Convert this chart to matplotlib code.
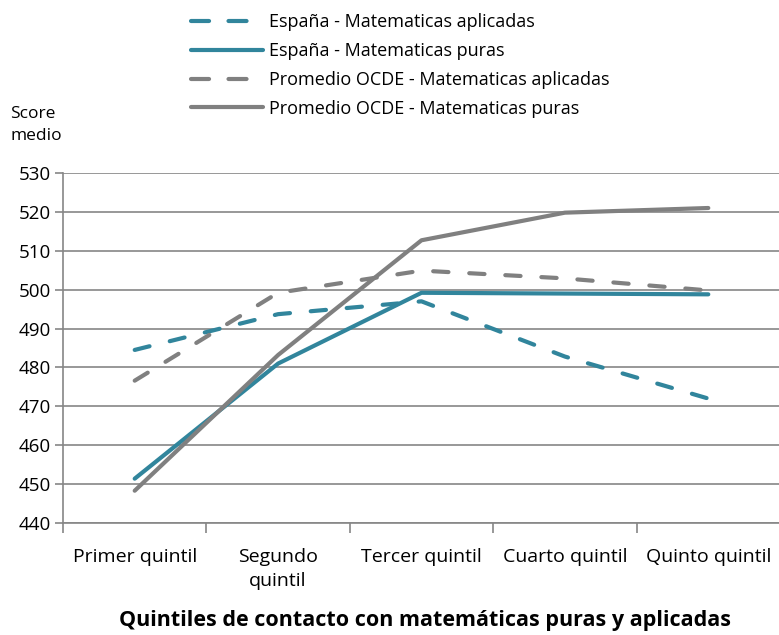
import matplotlib
matplotlib.use('Agg')
import matplotlib.pyplot as plt
from matplotlib.ticker import FixedLocator

plt.rcParams['font.family'] = ['Open Sans', 'DejaVu Sans']
plt.rcParams['lines.scale_dashes'] = False

categories = ['Primer quintil', 'Segundo\nquintil', 'Tercer quintil', 'Cuarto quintil', 'Quinto quintil']
espana_aplicadas = [484.5, 493.7, 497.0, 482.8, 472.0]
espana_puras = [451.4, 481.0, 499.2, 499.0, 498.8]
ocde_aplicadas = [476.6, 499.2, 504.9, 502.9, 499.8]
ocde_puras = [448.3, 483.2, 512.7, 519.8, 521.0]
y_ticks = list(range(440, 531, 10))

teal = '#31859C'
gray = '#808080'
grid_col = '#868686'

fig = plt.figure(figsize=(7.79, 6.35), dpi=100)
ax = fig.add_axes([63 / 779, 112 / 635, 717 / 779, 350 / 635])

x = range(len(categories))
lw = 3.0
dash = (0, (11, 15))
l1, = ax.plot(x, espana_aplicadas, color=teal, lw=lw, linestyle=dash,
              dash_capstyle='round', label='España - Matematicas aplicadas', zorder=3)
l2, = ax.plot(x, espana_puras, color=teal, lw=lw, solid_capstyle='round',
              label='España - Matematicas puras', zorder=3)
l3, = ax.plot(x, ocde_aplicadas, color=gray, lw=lw, linestyle=dash,
              dash_capstyle='round', label='Promedio OCDE - Matematicas aplicadas', zorder=3)
l4, = ax.plot(x, ocde_puras, color=gray, lw=lw, solid_capstyle='round',
              label='Promedio OCDE - Matematicas puras', zorder=3)

ax.set_xlim(-0.5, len(categories) - 0.5)
ax.set_ylim(440, 530)
ax.set_yticks(y_ticks)
ax.set_xticks(list(x))
ax.set_xticklabels(categories, fontsize=14)
ax.xaxis.set_minor_locator(FixedLocator([i - 0.5 for i in range(len(categories) + 1)]))
ax.tick_params(axis='x', which='major', length=0, pad=18)
ax.tick_params(axis='x', which='minor', length=7, color=grid_col, width=1.2)
ax.tick_params(axis='y', length=6, color=grid_col, width=1.2, labelsize=13.5, pad=3)
for lab in ax.get_xticklabels():
    lab.set_verticalalignment('top')
    lab.set_linespacing(1.45)

ax.grid(axis='y', color=grid_col, lw=1.2, zorder=1)
for s in ['top', 'right']:
    ax.spines[s].set_visible(False)
for s in ['left', 'bottom']:
    ax.spines[s].set_color(grid_col)
    ax.spines[s].set_linewidth(1.2)

fig.text(10 / 779, 1 - 125 / 635, 'Score\nmedio', fontsize=12.5, ha='left', va='center',
         linespacing=1.55)

ax.set_xlabel('Quintiles de contacto con matemáticas puras y aplicadas',
              fontsize=15.5, fontweight='bold')
ax.xaxis.set_label_coords(425 / 717 - 63 / 717, -87 / 350)

handles = [l1, l2, l3, l4]
leg_handles = []
for h in handles:
    lh, = ax.plot([], [], color=h.get_color(), lw=lw, linestyle=h.get_linestyle(),
                  dash_capstyle='round', solid_capstyle='round')
    if h in (l1, l3):
        lh.set_linestyle((0, (13, 14)))
    leg_handles.append(lh)
fig.legend(leg_handles, [h.get_label() for h in handles], loc='upper left',
           bbox_to_anchor=(175 / 779, 1 + 3 / 635), frameon=False, fontsize=13,
           handlelength=4.0, handletextpad=0.3, labelspacing=0.6)

fig.savefig('out.png', dpi=100)
